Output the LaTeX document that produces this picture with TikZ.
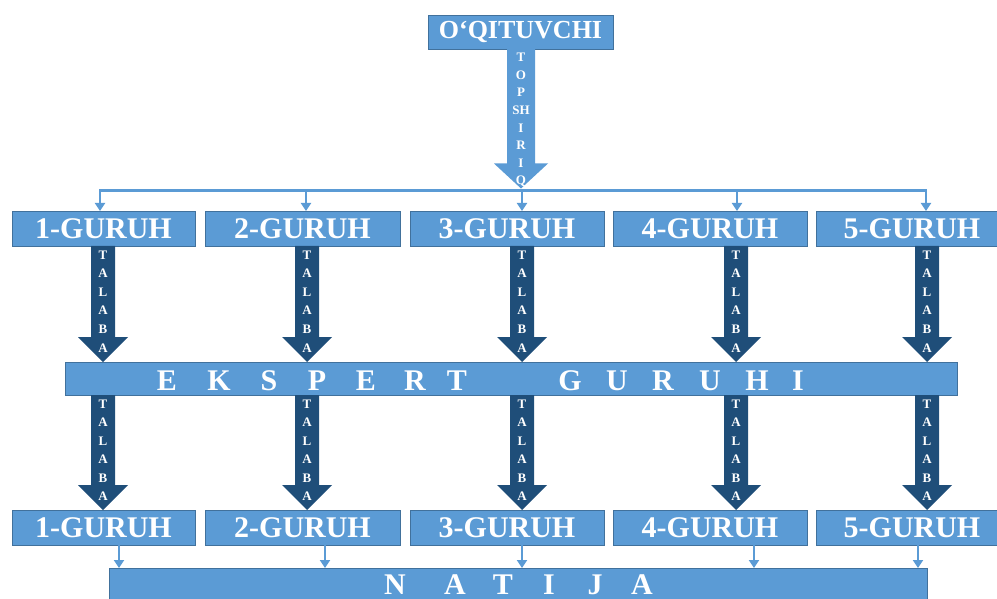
\documentclass[tikz,border=0pt]{standalone}
\usepackage{fontspec}
\setmainfont{Liberation Serif}
\usetikzlibrary{calc,arrows.meta}
\definecolor{boxblue}{HTML}{5B9BD5}
\definecolor{boxedge}{HTML}{41719C}
\definecolor{darkarr}{HTML}{1F4E79}
\tikzset{
  box/.style={draw=boxedge, line width=0.8pt, fill=boxblue, inner sep=0pt, outer sep=0pt,
    text=white, font=\bfseries\fontsize{30}{30}\selectfont},
  rowbox/.style={box, minimum height=35pt},
  bigletter/.style={anchor=base, inner sep=0pt, text=white, font=\bfseries\fontsize{30}{30}\selectfont},
  arrletter/.style={inner sep=0pt, text height=8.6pt, text depth=0pt, text=white,
    font=\bfseries\fontsize{13}{13}\selectfont},
  conn/.style={draw=boxblue, line width=2.2pt},
  tipped/.style={conn, -{Triangle[width=10pt,length=8pt]}},
}
% #1 name, #2 top point, #3 tip point, #4 fill, #5 shaft half width,
% #6 head half width, #7 letters, #8 first letter offset, #9 letter spacing
\newcommand\blockarrow[9]{%
  \coordinate (#1s) at (#2);
  \coordinate (#1e) at (#3);
  \fill[#4] ($(#1s)+(-#5,0)$) -- ($(#1s)+(#5,0)$) -- ($(#1e)+(#5,-25)$) -- ($(#1e)+(#6,-25)$)
    -- (#1e) -- ($(#1e)+(-#6,-25)$) -- ($(#1e)+(-#5,-25)$) -- cycle;
  \foreach \l [count=\i] in {#7}
    \node[arrletter] (#1l\i) at ($(#1s)+(0,{#8+(\i-1)*#9})$) {\l};
}
\begin{document}
\begin{tikzpicture}[x=1pt, y=-1pt]
\path[use as bounding box] (0,0) rectangle (997,599);
\clip (0,0) rectangle (997,599);

% boxes
\node[box, minimum width=185pt, minimum height=34pt, font=\bfseries\fontsize{26}{26}\selectfont]
  (teacher) at (520.5,32) {O‘QITUVCHI};

\foreach \n/\x/\w in {1/103.5/183, 2/302.5/195, 3/507/194, 4/710/194, 5/912/192} {
  \node[rowbox, minimum width=\w pt] (g\n) at (\x,228.5) {\n-GURUH};
  \node[rowbox, minimum width=\w pt] (h\n) at (\x,527.5) {\n-GURUH};
}

\node[box, minimum width=892pt, minimum height=33pt] (ekspert) at (511,378.5) {};
\node[box, minimum width=818pt, minimum height=64pt] (natija) at (518,600) {};

\foreach \l/\x [count=\i] in {E/167,K/219,S/269,P/317,E/366,R/415,T/457,G/570,U/617,R/663,U/710,H/757,I/798}
  \node[bigletter] (ek\i) at (\x,390) {\l};
\foreach \l/\x [count=\i] in {N/395,A/455,T/503,I/549,J/595,A/642}
  \node[bigletter] (nt\i) at (\x,594.5) {\l};

% column coordinates
\coordinate (ct) at (521,0);
\coordinate (bus) at (521,190.5);
\coordinate (bustop) at (521,188.5);
\foreach \n/\x in {1/100, 2/306, 3/522, 4/737, 5/926} \coordinate (d\n) at (\x,0);
\foreach \n/\x in {1/103, 2/307, 3/522, 4/736, 5/927} \coordinate (a\n) at (\x,0);
\foreach \n/\x in {1/119, 2/325, 3/522, 4/754, 5/918} \coordinate (b\n) at (\x,0);

% task arrow
\blockarrow{top}{teacher.south -| ct}{bustop}{boxblue}{14}{27}{T,O,P,SH,I,R,I,Q}{8.5}{17.6}

% distribution bus
\draw[conn, {Triangle[width=10pt,length=8pt]}-{Triangle[width=10pt,length=8pt]}]
  (g1.north -| d1) |- (bus) -| (g5.north -| d5);
\foreach \n in {2,3,4}
  \draw[tipped] (bus -| d\n) -- (g\n.north -| d\n);

% student arrows
\foreach \n in {1,...,5} {
  \blockarrow{u\n}{g\n.south -| a\n}{ekspert.north -| a\n}{darkarr}{12}{25}{T,A,L,A,B,A}{8.8}{18.6}
  \blockarrow{v\n}{ekspert.south -| a\n}{h\n.north -| a\n}{darkarr}{12}{25}{T,A,L,A,B,A}{9.2}{18.4}
}

% result arrows
\foreach \n in {1,...,5}
  \draw[tipped] (h\n.south -| b\n) -- (natija.north -| b\n);
\end{tikzpicture}
\end{document}
